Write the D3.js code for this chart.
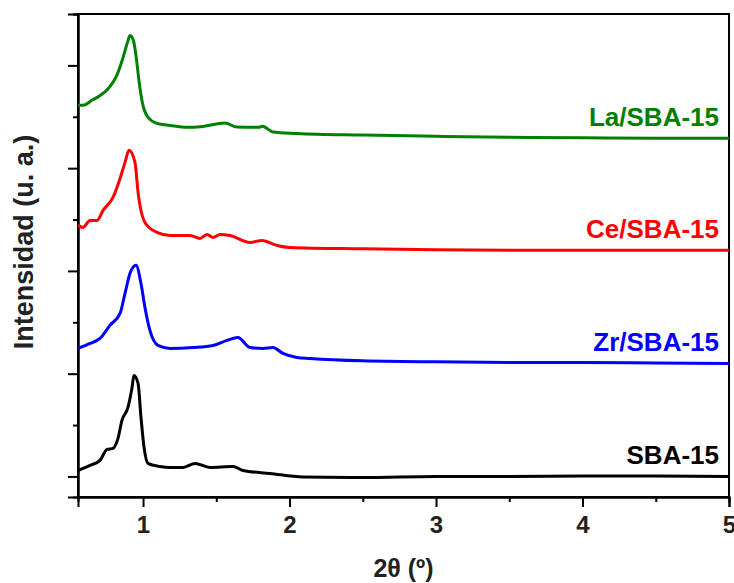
<!DOCTYPE html>
<html>
<head>
<meta charset="utf-8">
<script src="https://cdn.jsdelivr.net/npm/d3@7"></script>
<style>
  body { margin: 0; background: #fff; }
  text { font-family: "Liberation Sans", Arial, sans-serif; font-weight: bold; }
</style>
</head>
<body>
<svg id="svg"></svg>
<script>
////////////////////////////////////////////////////////////////////////
// Data (2theta in degrees, intensity in stacked a.u.)

let seriesNames = ["SBA-15", "Zr/SBA-15", "Ce/SBA-15", "La/SBA-15"];
let seriesColors = ["#000000", "#0000ff", "#ff0000", "#008000"];

let sba15 = [[0.556,0.058],[0.638,0.107],[0.706,0.156],[0.754,0.263],[0.795,0.273],
  [0.829,0.370],[0.856,0.545],[0.897,0.672],[0.925,0.866],[0.938,0.983],[0.966,0.905],
  [0.986,0.574],[1.007,0.282],[1.034,0.127],[1.116,0.097],[1.184,0.088],[1.273,0.088],
  [1.355,0.127],[1.457,0.088],[1.614,0.097],[1.682,0.058],[1.867,0.029],[2.092,-0.005],
  [2.5,-0.01],[3.0,0.0],[3.5,0.0],[4.0,0.005],[4.5,0.005],[5.0,0.0]];

let zrSba = [[0.556,1.246],[0.638,1.294],[0.706,1.343],[0.774,1.470],[0.843,1.586],
  [0.877,1.781],[0.911,1.976],[0.952,2.054],[0.986,1.878],[1.013,1.645],[1.047,1.421],
  [1.102,1.275],[1.184,1.246],[1.341,1.255],[1.478,1.275],[1.573,1.324],[1.648,1.353],
  [1.730,1.255],[1.819,1.246],[1.887,1.255],[1.955,1.197],[2.051,1.158],[2.140,1.148],
  [2.5,1.125],[3.0,1.115],[3.5,1.11],[4.0,1.11],[4.5,1.105],[5.0,1.10]];

let ceSba = [[0.556,2.443],[0.590,2.423],[0.638,2.491],[0.686,2.491],[0.727,2.589],
  [0.795,2.715],[0.843,2.900],[0.877,3.056],[0.904,3.173],[0.945,3.056],[0.966,2.764],
  [1.013,2.472],[1.095,2.375],[1.184,2.345],[1.320,2.345],[1.389,2.316],[1.437,2.355],
  [1.478,2.326],[1.525,2.355],[1.594,2.345],[1.730,2.277],[1.812,2.297],[1.914,2.248],
  [2.003,2.229],[2.5,2.215],[3.0,2.205],[3.5,2.2],[4.0,2.2],[4.5,2.2],[5.0,2.2]];

let laSba = [[0.556,3.611],[0.600,3.615],[0.650,3.660],[0.700,3.700],[0.760,3.770],
  [0.820,3.900],[0.860,4.060],[0.895,4.230],[0.911,4.292],[0.935,4.240],[0.955,4.060],
  [0.975,3.820],[0.995,3.640],[1.034,3.494],[1.095,3.436],[1.184,3.416],[1.300,3.397],
  [1.409,3.406],[1.559,3.440],[1.641,3.400],[1.790,3.397],[1.815,3.408],[1.887,3.352],
  [2.051,3.338],[2.5,3.322],[3.0,3.31],[3.5,3.30],[4.0,3.295],[4.5,3.29],[5.0,3.29]];

let allSeries = [sba15, zrSba, ceSba, laSba];

let xMajor = [1, 2, 3, 4, 5];
let xMinor = [1.5, 2.5, 3.5, 4.5];
let yMajor = [0, 1, 2, 3, 4];
let yMinor = [0.5, 1.5, 2.5, 3.5, 4.5];

////////////////////////////////////////////////////////////////////////
// Layout

let width = 734, height = 583;
let margin = { left: 78, top: 14, right: 5, bottom: 86 };
let plotW = width - margin.left - margin.right;
let plotH = height - margin.top - margin.bottom;

let xScale = d3.scaleLinear().domain([0.556, 5]).range([0, plotW]);
let yScale = d3.scaleLinear().domain([-0.2, 4.5]).range([plotH, 0]);

let svg = d3.select("#svg").attr("width", width).attr("height", height);
let g = svg.append("g").attr("transform", `translate(${margin.left},${margin.top})`);

// frame
g.append("rect")
  .attr("x", 0).attr("y", 0).attr("width", plotW).attr("height", plotH)
  .attr("fill", "none").attr("stroke", "black").attr("stroke-width", 2);

function styleAxis(sel) {
  sel.select(".domain").attr("stroke-width", 2);
  sel.selectAll(".tick line").attr("stroke-width", 2);
}

// x axis major + minor
let xAx = g.append("g").attr("transform", `translate(0,${plotH})`)
  .call(d3.axisBottom(xScale).tickValues(xMajor).tickSize(10)
          .tickFormat(d3.format("d")));
xAx.call(styleAxis);
xAx.selectAll("text")
  .attr("y", 36).attr("dy", 0)
  .attr("font-size", 24).attr("fill", "#222");
g.append("g").attr("transform", `translate(0,${plotH})`)
  .call(d3.axisBottom(xScale).tickValues(xMinor).tickSize(5).tickFormat(""))
  .call(styleAxis);

// y axis major + minor (no labels)
g.append("g")
  .call(d3.axisLeft(yScale).tickValues(yMajor).tickSize(10).tickFormat(""))
  .call(styleAxis);
g.append("g")
  .call(d3.axisLeft(yScale).tickValues(yMinor).tickSize(5).tickFormat(""))
  .call(styleAxis);

// curves
let line = d3.line()
  .x(function(d) { return xScale(d[0]); })
  .y(function(d) { return yScale(d[1]); })
  .curve(d3.curveMonotoneX);

for (let i = 0; i < allSeries.length; ++i) {
  g.append("path")
    .datum(allSeries[i])
    .attr("d", line)
    .attr("fill", "none")
    .attr("stroke", seriesColors[i])
    .attr("stroke-width", 3)
    .attr("stroke-linejoin", "round");

  // label sits just above the flat tail of each curve
  let tail = allSeries[i][allSeries[i].length - 1];
  g.append("text")
    .attr("x", xScale(tail[0]) - 10)
    .attr("y", yScale(tail[1]) - 12)
    .attr("text-anchor", "end")
    .attr("font-size", 26)
    .attr("fill", seriesColors[i])
    .text(seriesNames[i]);
}

// axis titles
svg.append("text")
  .attr("x", margin.left + plotW / 2)
  .attr("y", 577)
  .attr("text-anchor", "middle")
  .attr("font-size", 25)
  .attr("fill", "#222")
  .text("2θ (º)");

svg.append("text")
  .attr("transform", "translate(33,242) rotate(-90)")
  .attr("text-anchor", "middle")
  .attr("font-size", 27)
  .attr("fill", "#222")
  .text("Intensidad (u. a.)");
</script>
</body>
</html>
